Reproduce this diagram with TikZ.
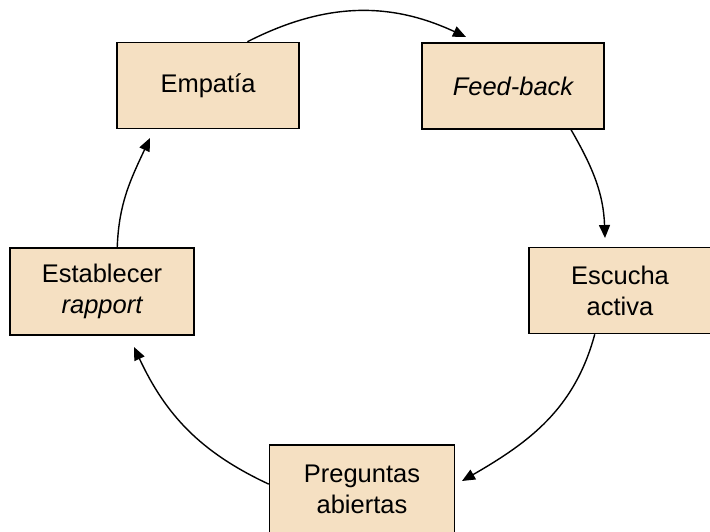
\documentclass[tikz,border=0pt]{standalone}
\usepackage{fontspec}
\setmainfont{Liberation Sans}
\usetikzlibrary{arrows.meta}
\definecolor{boxfill}{HTML}{F5E0C2}
\begin{document}
\begin{tikzpicture}[x=1pt,y=-1pt,
  box/.style={draw=black, line width=1.5pt, fill=boxfill, minimum width=182pt, minimum height=86pt,
    align=center, inner sep=0pt, font=\fontsize{25.5}{31}\selectfont},
  conn/.style={line width=1.4pt, -{Triangle[length=13pt,width=11pt]}}]
\useasboundingbox (0,0) rectangle (710,531);
\node[box] (emp) at (208,85.5) {Empatía};
\node[box] (fb) at (513,86) {\itshape Feed-back};
\node[box] (esc) at (620,290.5) {Escucha\\activa};
\node[box, minimum width=184pt, minimum height=87pt] (est) at (102,291.5) {Establecer\\\itshape rapport};
\node[box, minimum width=185pt, minimum height=88pt] (pg) at (362,489) {Preguntas\\abiertas};
\coordinate (t1) at (466,37);
\coordinate (t2) at (605,238);
\coordinate (t3) at (462,481);
\coordinate (t4) at (134,347);
\coordinate (t5) at (150,138);
\draw[conn] (emp.48) to[out=27, in=155] (t1);
\draw[conn] (fb.-37) to[out=-60, in=92] (t2);
\draw[conn] (esc.-120) to[out=-105, in=30] (t3);
\draw[conn] (pg.177) to[out=155, in=-65] (t4);
\draw[conn] (est.71) to[out=88, in=-115] (t5);
\end{tikzpicture}
\end{document}
